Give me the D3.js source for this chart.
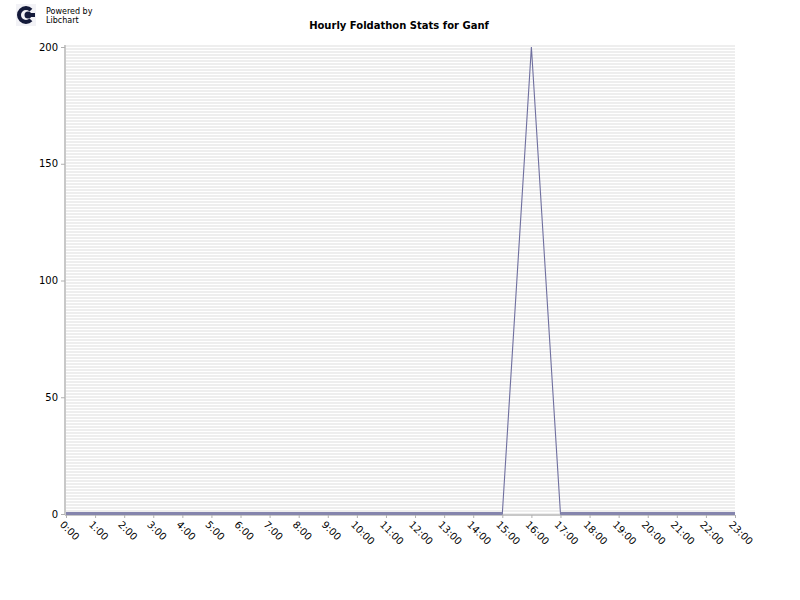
<!DOCTYPE html>
<html>
<head>
<meta charset="utf-8">
<script src="https://cdn.jsdelivr.net/npm/d3@7"></script>
<style>
  body { margin: 0; background: #fff; }
  svg text { font-family: "DejaVu Sans", sans-serif; }
</style>
</head>
<body>
<div id="chart"></div>
<script>
// hourly counts, only 16:00 has activity
const hours = ['0:00','1:00','2:00','3:00','4:00','5:00','6:00','7:00','8:00','9:00','10:00','11:00',
  '12:00','13:00','14:00','15:00','16:00','17:00','18:00','19:00','20:00','21:00','22:00','23:00'];
const counts = [0,0,0,0,0,0,0,0,0,0,0,0,0,0,0,0,200,0,0,0,0,0,0,0];
const yTicks = [0, 50, 100, 150, 200];
const chartTitle = 'Hourly Foldathon Stats for Ganf';

const width = 800, height = 600;
const margin = { top: 47, right: 65, bottom: 86, left: 66 };

const svg = d3.select('#chart').append('svg')
  .attr('width', width)
  .attr('height', height);

// striped plot background
const defs = svg.append('defs');
const pat = defs.append('pattern')
  .attr('id', 'stripes')
  .attr('patternUnits', 'userSpaceOnUse')
  .attr('width', 6).attr('height', 3);
pat.append('rect').attr('width', 6).attr('height', 3).attr('fill', '#ffffff');
pat.append('rect').attr('width', 6).attr('height', 2).attr('fill', '#eeeeee');

const x = d3.scalePoint()
  .domain(hours)
  .range([margin.left, width - margin.right]);

const y = d3.scaleLinear()
  .domain([0, 200])
  .range([height - margin.bottom, margin.top]);

svg.append('rect')
  .attr('x', x(hours[0]))
  .attr('y', y(200) - 2)
  .attr('width', x(hours[hours.length - 1]) - x(hours[0]))
  .attr('height', y(0) - y(200) + 2)
  .attr('fill', 'url(#stripes)');

// axes
const yAxisG = svg.append('g')
  .attr('transform', `translate(${margin.left - 1},0)`)
  .call(d3.axisLeft(y).tickValues(yTicks).tickSize(4).tickPadding(3));
yAxisG.select('.domain').attr('stroke', '#c8c8c8').attr('stroke-width', 2)
  .attr('d', `M0,${y(200) - 2}V${y(0) + 1}`);
yAxisG.selectAll('.tick line').attr('stroke', '#b0b0b0');
yAxisG.selectAll('.tick text').attr('font-size', 10).attr('fill', '#000');

const xAxisG = svg.append('g')
  .attr('transform', `translate(0,${y(0) + 1})`)
  .call(d3.axisBottom(x).tickSize(3).tickPadding(0));
xAxisG.select('.domain').attr('stroke', '#c8c8c8').attr('stroke-width', 2)
  .attr('d', `M${margin.left - 1},0H${width - margin.right}`);
xAxisG.selectAll('.tick line').attr('stroke', '#b0b0b0');
xAxisG.selectAll('.tick text')
  .attr('font-size', 10)
  .attr('fill', '#000')
  .attr('text-anchor', 'start')
  .attr('dy', 0)
  .attr('transform', 'translate(0,3) rotate(45)')
  .attr('dominant-baseline', 'hanging');

// series line
const line = d3.line()
  .x((d, i) => x(hours[i]))
  .y(d => y(d));

svg.append('path')
  .datum(counts)
  .attr('fill', 'none')
  .attr('stroke', '#6f6f9f')
  .attr('stroke-width', 1.1)
  .attr('d', line);

// zero run looks heavier in the original
svg.append('path')
  .datum(counts)
  .attr('fill', 'none')
  .attr('stroke', '#8585ad')
  .attr('stroke-width', 3)
  .attr('d', d3.line()
    .defined(d => d === 0)
    .x((d, i) => x(hours[i]))
    .y(d => y(d) - 0.5));

// title
svg.append('text')
  .attr('x', 399)
  .attr('y', 29)
  .attr('text-anchor', 'middle')
  .attr('font-size', 10)
  .attr('font-weight', 'bold')
  .text(chartTitle);

// powered by logo
const logo = svg.append('g');
logo.append('rect').attr('x', 16).attr('y', 4).attr('width', 20).attr('height', 22).attr('fill', '#f2f2f6');
logo.append('path')
  .attr('d', d3.arc()({ innerRadius: 5, outerRadius: 9, startAngle: Math.PI * 0.75, endAngle: Math.PI * 2.25 }))
  .attr('transform', 'translate(26,15)')
  .attr('fill', '#141a3a');
logo.append('circle').attr('cx', 28).attr('cy', 15).attr('r', 3.5).attr('fill', '#141a3a');
logo.append('rect').attr('x', 28).attr('y', 13).attr('width', 7).attr('height', 4).attr('fill', '#141a3a');
logo.append('text').attr('x', 46).attr('y', 14).attr('font-size', 8).text('Powered by');
logo.append('text').attr('x', 46).attr('y', 23).attr('font-size', 8).text('Libchart');
</script>
</body>
</html>
